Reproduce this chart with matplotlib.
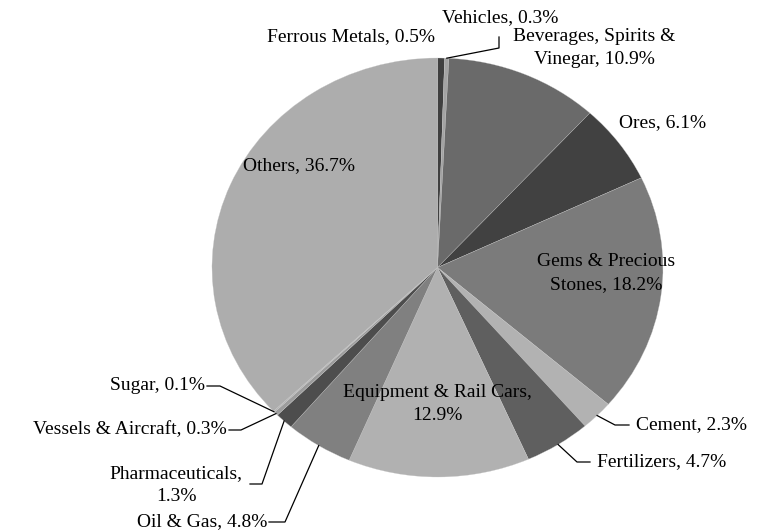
import numpy as np
import matplotlib
matplotlib.use("Agg")
import matplotlib.pyplot as plt
from matplotlib.lines import Line2D

# slice data, clockwise from 12 o'clock
labels = ['Ferrous Metals', 'Vehicles', 'Beverages, Spirits &\nVinegar', 'Ores',
          'Gems & Precious\nStones', 'Cement', 'Fertilizers', 'Equipment & Rail Cars,\n',
          'Oil & Gas', 'Pharmaceuticals,\n', 'Vessels & Aircraft', 'Sugar', 'Others']
shares = [0.5, 0.3, 10.9, 6.1, 18.2, 2.3, 4.7, 12.9, 4.8, 1.3, 0.3, 0.1, 36.7]
colors = ['#404040', '#a3a3a3', '#6a6a6a', '#414141', '#7b7b7b', '#b2b2b2', '#5f5f5f',
          '#b1b1b1', '#808080', '#4d4d4d', '#9c9c9c', '#b4b4b4', '#adadad']

W, H = 771, 531
plt.rcParams['font.family'] = ['Liberation Serif', 'DejaVu Serif']
fig = plt.figure(figsize=(W / 100, H / 100), dpi=100)

# pie is slightly wider than tall in the reference
ax = fig.add_axes([212 / W, 1 - 477 / H, 451 / W, 419 / H])
wedges, _ = ax.pie(shares, colors=colors, startangle=90, counterclock=False,
                   wedgeprops=dict(edgecolor='#c8c8c8', linewidth=0.2))
ax.set_aspect('auto')
ax.set_xlim(-1, 1)
ax.set_ylim(-1, 1)
ax.axis('off')


def px(x, y):
    return x / W, 1 - y / H


def anchor(i, r=1.0):
    w = wedges[i]
    t = np.deg2rad((w.theta1 + w.theta2) / 2)
    d = ax.transData.transform((r * np.cos(t), r * np.sin(t)))
    return fig.transFigure.inverted().transform(d)


fs = 14
tkw = dict(fontsize=fs, color='black', linespacing=1.5)

def label_text(i):
    name = labels[i]
    pct = '%.1f%%' % shares[i]
    if name.endswith('\n'):
        return name + pct
    return name + ', ' + pct

# label positions (pixel centres, or right end for ha='right')
placed = {
    0: (351, 37, 'center'),
    1: (500, 18, 'center'),
    2: (594, 48, 'center'),
    3: (663, 123, 'center'),
    4: (606, 273, 'center'),
    5: (691, 425, 'center'),
    6: (662, 462, 'center'),
    7: (437, 404, 'center'),
    8: (267, 522, 'right'),
    9: (176, 485, 'center'),
    10: (227, 430, 'right'),
    11: (205, 386, 'right'),
    12: (299, 166, 'center'),
}
for i, (x, y, ha) in placed.items():
    fx, fy = px(x, y)
    fig.text(fx, fy, label_text(i), ha=ha, va='center', **tkw)

# leader lines: slice edge -> elbow -> end near label
leaders = {
    1: [(499, 48), (499, 37)],
    5: [(615, 425), (629, 425)],
    6: [(577, 462), (590, 462)],
    8: [(285, 522), (269, 522)],
    9: [(262, 484), (250, 484)],
    10: [(241, 430), (229, 430)],
    11: [(220, 386), (207, 386)],
}
for i, pts in leaders.items():
    a = anchor(i)
    xs = [a[0]] + [px(*p)[0] for p in pts]
    ys = [a[1]] + [px(*p)[1] for p in pts]
    fig.add_artist(Line2D(xs, ys, transform=fig.transFigure, color='black', linewidth=0.9))

fig.savefig('out.png', dpi=100, facecolor='white')
